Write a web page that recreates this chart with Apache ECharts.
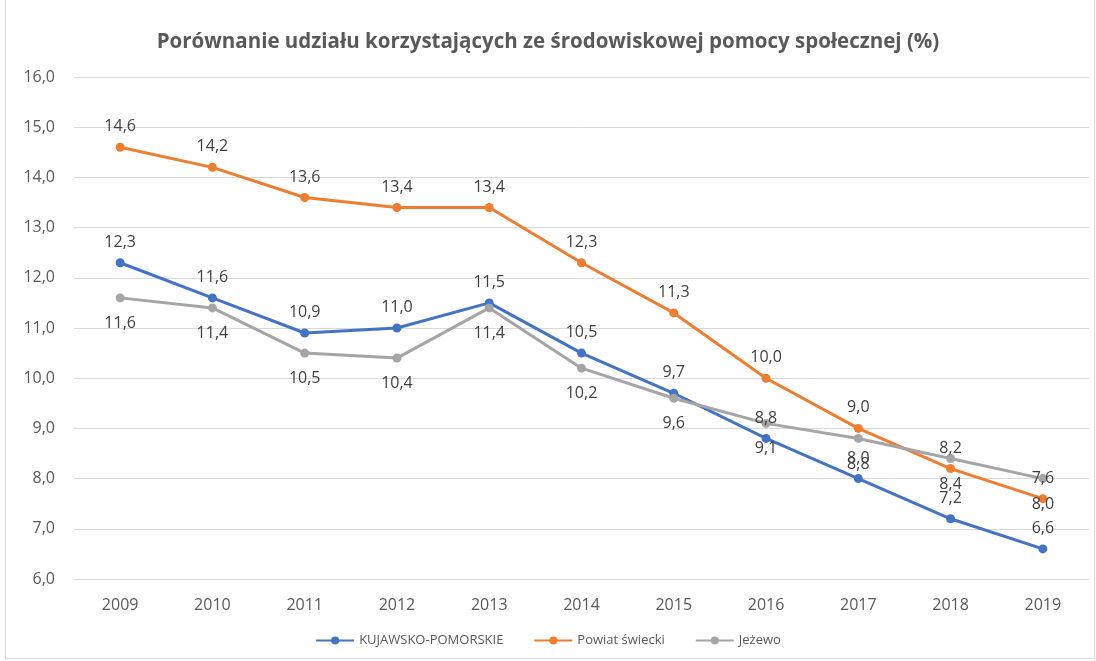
<!DOCTYPE html>
<html>
<head>
<meta charset="utf-8">
<script src="https://cdn.jsdelivr.net/npm/echarts@6/dist/echarts.min.js"></script>
<style>
  html, body { margin: 0; padding: 0; background: #fff; }
  #frame { position: absolute; left: 5px; top: 0; width: 1090px; height: 659px; border: 1px solid #d9d9d9; border-top: none; box-sizing: border-box; }
  #chart { position: absolute; left: 0; top: 0; width: 1096px; height: 661px; }
</style>
</head>
<body>
<div id="frame"></div>
<div id="chart"></div>
<script>
// Lata i udziały (%) korzystających ze środowiskowej pomocy społecznej
const years = ['2009', '2010', '2011', '2012', '2013', '2014', '2015', '2016', '2017', '2018', '2019'];
const kujawskoPomorskie = [12.3, 11.6, 10.9, 11.0, 11.5, 10.5, 9.7, 8.8, 8.0, 7.2, 6.6];
const powiatSwiecki = [14.6, 14.2, 13.6, 13.4, 13.4, 12.3, 11.3, 10.0, 9.0, 8.2, 7.6];
const jezewo = [11.6, 11.4, 10.5, 10.4, 11.4, 10.2, 9.6, 9.1, 8.8, 8.4, 8.0];

const fmt = v => v.toFixed(1).replace('.', ',');
const font = '"Open Sans", "Noto Sans", sans-serif';

function series(name, data, color, labelPos) {
  return {
    name: name,
    type: 'line',
    data: data,
    symbol: 'circle',
    symbolSize: 9,
    lineStyle: { width: 3, color: color },
    itemStyle: { color: color },
    label: {
      show: true,
      position: labelPos,
      distance: labelPos === 'top' ? 8 : 13,
      color: '#404040',
      fontSize: 16,
      fontFamily: font,
      formatter: p => fmt(p.value)
    }
  };
}

const chart = echarts.init(document.getElementById('chart'));
chart.setOption({
  animation: false,
  title: {
    text: 'Porównanie udziału korzystających ze środowiskowej pomocy społecznej (%)',
    left: 'center',
    top: 27,
    textStyle: { fontFamily: font, fontWeight: 'bold', fontSize: 20.5, color: '#595959' }
  },
  legend: {
    bottom: 9,
    left: 'center',
    itemWidth: 38,
    itemHeight: 10,
    itemGap: 30,
    textStyle: { fontFamily: font, fontSize: 13, color: '#595959' },
    data: ['KUJAWSKO-POMORSKIE', 'Powiat świecki', 'Jeżewo']
  },
  grid: { left: 74, right: 7, top: 77, bottom: 82 },
  xAxis: {
    type: 'category',
    data: years,
    boundaryGap: true,
    axisLine: { lineStyle: { color: '#d9d9d9' } },
    axisTick: { show: false },
    axisLabel: { color: '#595959', fontSize: 16, fontFamily: font, margin: 18 }
  },
  yAxis: {
    type: 'value',
    min: 6,
    max: 16,
    interval: 1,
    axisLine: { show: false },
    axisTick: { show: false },
    splitLine: { lineStyle: { color: '#d9d9d9', width: 1 } },
    axisLabel: { color: '#595959', fontSize: 16, fontFamily: font, margin: 19, formatter: v => fmt(v) }
  },
  series: [
    series('KUJAWSKO-POMORSKIE', kujawskoPomorskie, '#4472C4', 'top'),
    series('Powiat świecki', powiatSwiecki, '#ED7D31', 'top'),
    series('Jeżewo', jezewo, '#A5A5A5', 'bottom')
  ]
});
</script>
</body>
</html>
